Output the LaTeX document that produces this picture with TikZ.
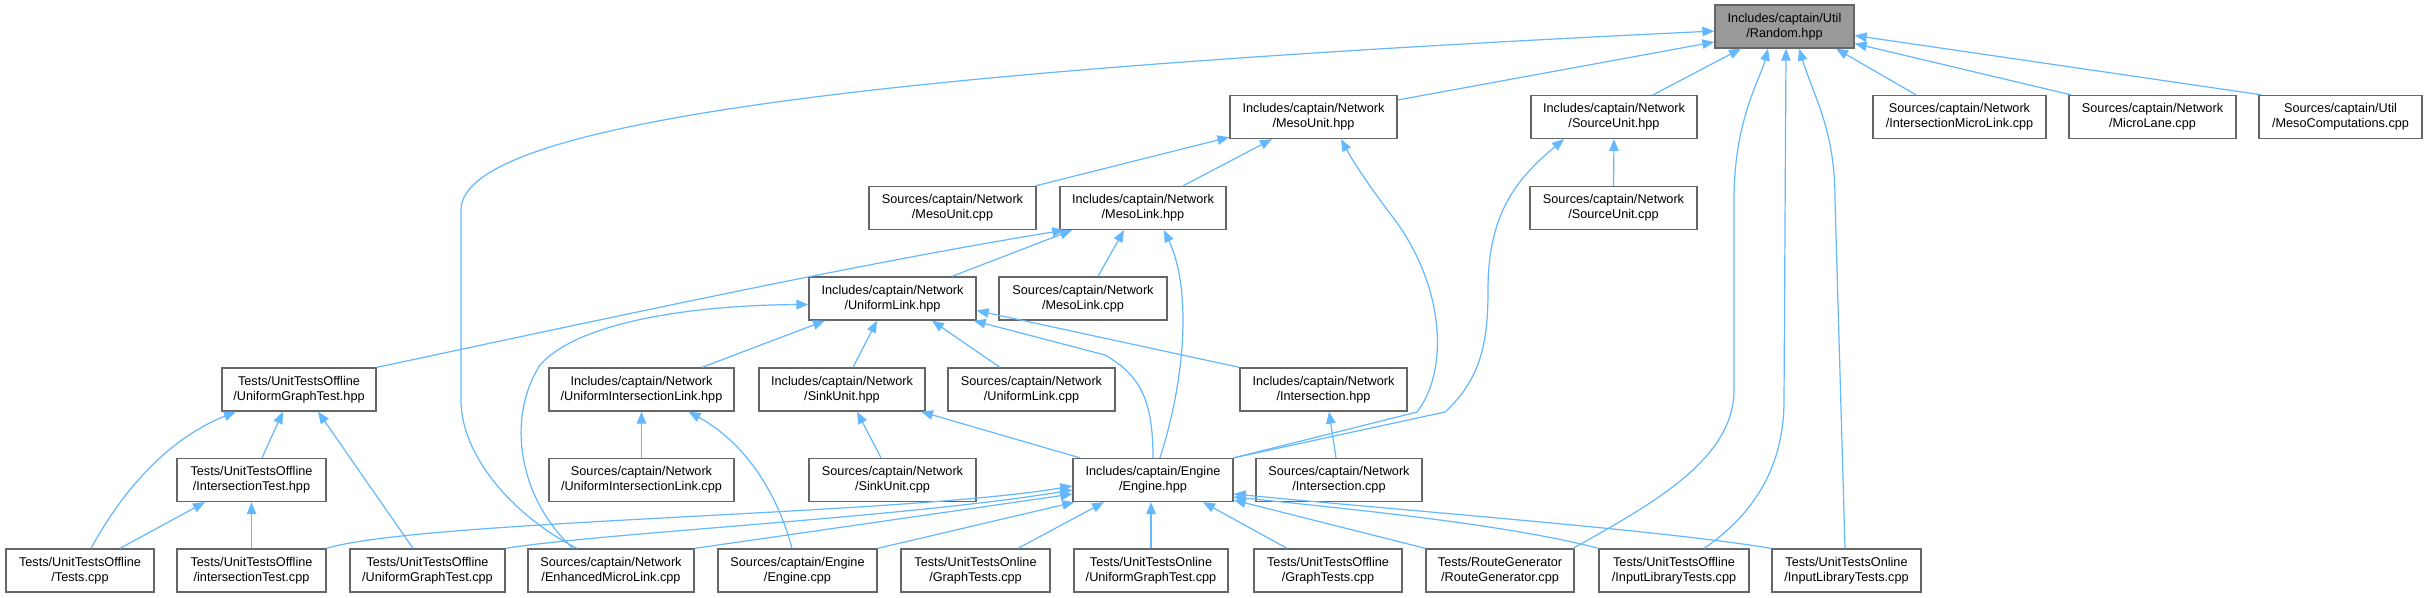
\documentclass[tikz,border=0pt]{standalone}
\usepackage{fontspec}
\setmainfont{Liberation Sans}
\usetikzlibrary{arrows.meta}
\definecolor{edgeblue}{HTML}{63B8FF}
\definecolor{boxgray}{HTML}{666666}
\definecolor{focusgray}{HTML}{999999}

\begin{document}
\begin{tikzpicture}[
            x=1pt,
            y=-1pt,
            file/.style={
                    rectangle,
                    draw=boxgray,
                    line width=1.3pt,
                    fill=white,
                    align=center,
                    inner sep=0pt,
                    minimum height=43pt,
                    font=\fontsize{12.7}{15}\selectfont
                },
            focus/.style={
                    file,
                    fill=focusgray
                },
            dep/.style={
                    draw=edgeblue,
                    line width=1.2pt,
                    -{Triangle[length=12pt,width=9.5pt]}
                }
        ]

        \path[use as bounding box, fill=white] (0,0) rectangle (2427,597);

        \node[focus, minimum width=139pt] (random) at (1784.5,26.5) {Includes/captain/Util\\/Random.hpp};

        \node[file, minimum width=167pt] (mesounithpp) at (1313.5,117) {Includes/captain/Network\\/MesoUnit.hpp};
        \node[file, minimum width=166pt] (sourceunithpp) at (1614,117) {Includes/captain/Network\\/SourceUnit.hpp};
        \node[file, minimum width=173pt] (intersectionmicrolinkcpp) at (1959.5,117) {Sources/captain/Network\\/IntersectionMicroLink.cpp};
        \node[file, minimum width=167pt] (microlanecpp) at (2152.5,117) {Sources/captain/Network\\/MicroLane.cpp};
        \node[file, minimum width=163pt] (mesocomputationscpp) at (2340.5,117) {Sources/captain/Util\\/MesoComputations.cpp};

        \node[file, minimum width=167pt] (mesounitcpp) at (952.5,208) {Sources/captain/Network\\/MesoUnit.cpp};
        \node[file, minimum width=166pt] (mesolinkhpp) at (1143,208) {Includes/captain/Network\\/MesoLink.hpp};
        \node[file, minimum width=167pt] (sourceunitcpp) at (1613.5,208) {Sources/captain/Network\\/SourceUnit.cpp};

        \node[file, minimum width=167pt] (uniformlinkhpp) at (892.5,298.5) {Includes/captain/Network\\/UniformLink.hpp};
        \node[file, minimum width=168pt] (mesolinkcpp) at (1083,298.5) {Sources/captain/Network\\/MesoLink.cpp};

        \node[file, minimum width=154pt] (uniformgraphtesthpp) at (299,389.5) {Tests/UnitTestsOffline\\/UniformGraphTest.hpp};
        \node[file, minimum width=185pt] (uniformintersectionlinkhpp) at (641.5,389.5) {Includes/captain/Network\\/UniformIntersectionLink.hpp};
        \node[file, minimum width=166pt] (sinkunithpp) at (842,389.5) {Includes/captain/Network\\/SinkUnit.hpp};
        \node[file, minimum width=167pt] (uniformlinkcpp) at (1031.5,389.5) {Sources/captain/Network\\/UniformLink.cpp};
        \node[file, minimum width=167pt] (intersectionhpp) at (1323.5,389.5) {Includes/captain/Network\\/Intersection.hpp};

        \node[file, minimum width=149pt] (intersectiontesthpp) at (251.5,480) {Tests/UnitTestsOffline\\/IntersectionTest.hpp};
        \node[file, minimum width=185pt] (uniformintersectionlinkcpp) at (641.5,480) {Sources/captain/Network\\/UniformIntersectionLink.cpp};
        \node[file, minimum width=167pt] (sinkunitcpp) at (892.5,480) {Sources/captain/Network\\/SinkUnit.cpp};
        \node[file, minimum width=160pt] (enginehpp) at (1153,480) {Includes/captain/Engine\\/Engine.hpp};
        \node[file, minimum width=166pt] (intersectioncpp) at (1339,480) {Sources/captain/Network\\/Intersection.cpp};

        \node[file, minimum width=148pt] (testscpp) at (80,570.5) {Tests/UnitTestsOffline\\/Tests.cpp};
        \node[file, minimum width=149pt] (intersectiontestcpp) at (251.5,570.5) {Tests/UnitTestsOffline\\/intersectionTest.cpp};
        \node[file, minimum width=155pt] (uniformgraphtestcpp) at (427.5,570.5) {Tests/UnitTestsOffline\\/UniformGraphTest.cpp};
        \node[file, minimum width=166pt] (enhancedmicrolinkcpp) at (611,570.5) {Sources/captain/Network\\/EnhancedMicroLink.cpp};
        \node[file, minimum width=159pt] (enginecpp) at (797.5,570.5) {Sources/captain/Engine\\/Engine.cpp};
        \node[file, minimum width=149pt] (graphtestsonlinecpp) at (975.5,570.5) {Tests/UnitTestsOnline\\/GraphTests.cpp};
        \node[file, minimum width=154pt] (uniformgraphtestonlinecpp) at (1151,570.5) {Tests/UnitTestsOnline\\/UniformGraphTest.cpp};
        \node[file, minimum width=148pt] (graphtestsofflinecpp) at (1328,570.5) {Tests/UnitTestsOffline\\/GraphTests.cpp};
        \node[file, minimum width=148pt] (routegeneratorcpp) at (1500,570.5) {Tests/RouteGenerator\\/RouteGenerator.cpp};
        \node[file, minimum width=150pt] (inputlibrarytestsofflinecpp) at (1674,570.5) {Tests/UnitTestsOffline\\/InputLibraryTests.cpp};
        \node[file, minimum width=149pt] (inputlibrarytestsonlinecpp) at (1846.5,570.5) {Tests/UnitTestsOnline\\/InputLibraryTests.cpp};

        \draw[dep] ([xshift=-34pt]enhancedmicrolinkcpp.north) .. controls (520,520) and (461,460) .. (461,400) -- (461,210) .. controls (461,120) and (900,70) .. ([yshift=-4.5pt]random.west);
        \draw[dep] ([yshift=17pt]mesounithpp.east) -- ([yshift=-15.5pt]random.west);
        \draw[dep] ([xshift=39pt]sourceunithpp.north) -- ([xshift=-43.5pt]random.south);
        \draw[dep] ([xshift=73pt]routegeneratorcpp.north) .. controls (1650,505) and (1734,460) .. (1734,390) -- (1734,200) .. controls (1734,120) and (1760,80) .. ([xshift=-16.5pt]random.south);
        \draw[dep] ([xshift=30pt]inputlibrarytestsofflinecpp.north) .. controls (1760,510) and (1784,460) .. (1784,400) -- ([xshift=1.5pt]random.south);
        \draw[dep] ([xshift=-1.5pt]inputlibrarytestsonlinecpp.north) -- (1835,200) .. controls (1835,130) and (1815,100) .. ([xshift=14.5pt]random.south);
        \draw[dep] ([xshift=-43.5pt]intersectionmicrolinkcpp.north) -- ([xshift=51.5pt]random.south);
        \draw[dep] ([xshift=-81.5pt]microlanecpp.north) -- ([yshift=-17pt]random.east);
        \draw[dep] ([xshift=-79pt]mesocomputationscpp.north) -- ([yshift=-9pt]random.east);

        \draw[dep] ([xshift=83pt]mesounitcpp.north) -- ([yshift=2pt]mesounithpp.south west);
        \draw[dep] ([xshift=40pt]mesolinkhpp.north) -- ([xshift=-41.5pt]mesounithpp.south);
        \draw[dep] (enginehpp.north east) -- (1417,412) .. controls (1448,372) and (1446,290) .. (1395,220) .. controls (1372,190) and (1355,165) .. ([xshift=27.5pt]mesounithpp.south);

        \draw[dep] (sourceunitcpp.north) -- (sourceunithpp.south);
        \draw[dep] (enginehpp.north east) -- (1445,412) .. controls (1482,378) and (1488,340) .. (1488,290) .. controls (1488,215) and (1515,180) .. ([xshift=-50pt]sourceunithpp.south);

        \draw[dep] (uniformgraphtesthpp.north east) .. controls (600,320) and (850,265) .. ([xshift=5pt]mesolinkhpp.south west);
        \draw[dep] ([xshift=59.5pt]uniformlinkhpp.north) -- ([xshift=-71pt]mesolinkhpp.south);
        \draw[dep] ([xshift=15pt]mesolinkcpp.north) -- ([xshift=-19pt]mesolinkhpp.south);
        \draw[dep] ([xshift=7pt]enginehpp.north) .. controls (1185,380) and (1192,290) .. ([xshift=21pt]mesolinkhpp.south);

        \draw[dep] ([xshift=-38pt]enhancedmicrolinkcpp.north) .. controls (520,500) and (505,420) .. (540,365) .. controls (580,320) and (700,305) .. ([yshift=-6pt]uniformlinkhpp.west);
        \draw[dep] ([xshift=60.5pt]uniformintersectionlinkhpp.north) -- ([xshift=-67.5pt]uniformlinkhpp.south);
        \draw[dep] ([xshift=11pt]sinkunithpp.north) -- ([xshift=-15.5pt]uniformlinkhpp.south);
        \draw[dep] ([xshift=-31.5pt]uniformlinkcpp.north) -- ([xshift=39.5pt]uniformlinkhpp.south);
        \draw[dep] (intersectionhpp.north west) -- ([yshift=-12pt]uniformlinkhpp.east);
        \draw[dep] (enginehpp.north) .. controls (1153,400) and (1140,375) .. (1105,355) -- ([xshift=-3pt]uniformlinkhpp.south east);

        \draw[dep] ([xshift=11pt]testscpp.north) .. controls (120,495) and (165,440) .. ([xshift=-63pt]uniformgraphtesthpp.south);
        \draw[dep] ([xshift=10.5pt]intersectiontesthpp.north) -- ([xshift=-16pt]uniformgraphtesthpp.south);
        \draw[dep] ([xshift=-14.5pt]uniformgraphtestcpp.north) -- ([xshift=19pt]uniformgraphtesthpp.south);

        \draw[dep] ([xshift=40pt]testscpp.north) -- ([xshift=-46.5pt]intersectiontesthpp.south);
        \draw[dep] (intersectiontestcpp.north) -- (intersectiontesthpp.south);

        \draw[dep] (uniformintersectionlinkcpp.north) -- (uniformintersectionlinkhpp.south);
        \draw[dep] ([xshift=-5.5pt]enginecpp.north) .. controls (775,485) and (740,440) .. ([xshift=47pt]uniformintersectionlinkhpp.south);

        \draw[dep] ([xshift=-11.5pt]sinkunitcpp.north) -- ([xshift=15pt]sinkunithpp.south);
        \draw[dep] ([xshift=-73pt]enginehpp.north) -- ([xshift=79pt]sinkunithpp.south);

        \draw[dep] ([xshift=-3pt]intersectioncpp.north) -- ([xshift=5.5pt]intersectionhpp.south);

        \draw[dep] (intersectiontestcpp.north east) .. controls (420,520) and (900,515) .. ([yshift=-6pt]enginehpp.west);
        \draw[dep] (uniformgraphtestcpp.north east) .. controls (600,533) and (900,518) .. ([yshift=-10pt]enginehpp.west);
        \draw[dep] (enhancedmicrolinkcpp.north east) -- ([yshift=-14pt]enginehpp.west);
        \draw[dep] (enginecpp.north east) -- ([xshift=2pt]enginehpp.south west);
        \draw[dep] ([xshift=42.5pt]graphtestsonlinecpp.north) -- ([xshift=-49pt]enginehpp.south);
        \draw[dep] (uniformgraphtestonlinecpp.north) -- ([xshift=-2pt]enginehpp.south);
        \draw[dep] ([xshift=-41pt]graphtestsofflinecpp.north) -- ([xshift=50pt]enginehpp.south);
        \draw[dep] (routegeneratorcpp.north west) -- ([yshift=-20pt]enginehpp.east);
        \draw[dep] (inputlibrarytestsofflinecpp.north west) .. controls (1510,525) and (1360,510) .. ([yshift=-17pt]enginehpp.east);
        \draw[dep] (inputlibrarytestsonlinecpp.north west) .. controls (1660,530) and (1420,512) .. ([yshift=-14pt]enginehpp.east);

    \end{tikzpicture}
\end{document}
